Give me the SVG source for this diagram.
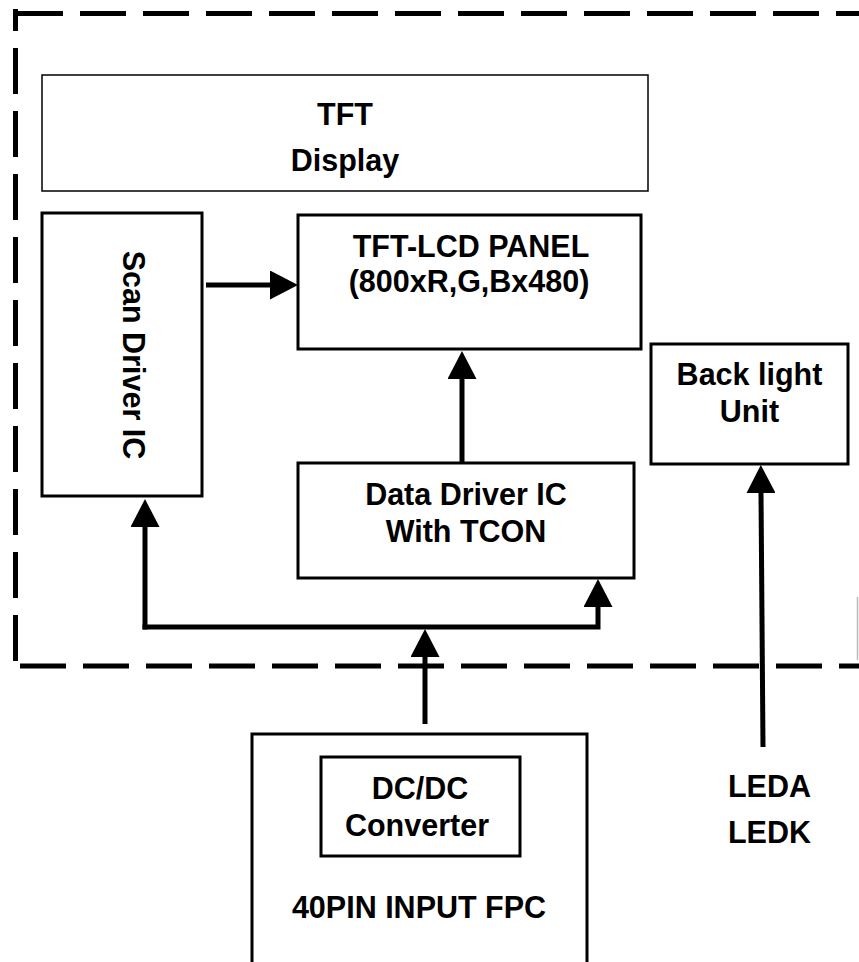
<svg xmlns="http://www.w3.org/2000/svg" width="859" height="962" viewBox="0 0 859 962">
<style>
.box{fill:#fff;stroke:#000;stroke-width:3}
.thin{fill:#fff;stroke:#000;stroke-width:1.5}
.t{font-family:"Liberation Sans",Arial,sans-serif;font-weight:bold;font-size:30.5px;fill:#000;text-anchor:middle}
.dash{fill:none;stroke:#000;stroke-width:5;stroke-dasharray:46 17}
.wire{fill:none;stroke:#000;stroke-width:5}
</style>
<defs>
<marker id="ah" viewBox="0 0 28 29" refX="0" refY="14.5" markerWidth="28" markerHeight="29" markerUnits="userSpaceOnUse" orient="auto">
<path d="M0,0 L28,14.5 L0,29 Z" fill="#000"/>
</marker>
</defs>
<rect width="859" height="962" fill="#fff"/>
<g id="border">
<path class="dash" d="M17,13.5 H859"/>
<path class="dash" d="M15.5,9 V667" style="stroke-dashoffset:24"/>
<path class="dash" d="M20,666 H859"/>
<path d="M857.5,597 V660" fill="none" stroke="#bbb" stroke-width="1.5"/>
</g>
<g id="tft-display">
<rect class="thin" x="42" y="75" width="606" height="116"/>
<text class="t" x="345" y="125">TFT</text>
<text class="t" x="345" y="171">Display</text>
</g>
<g id="scan-driver">
<rect class="box" x="42" y="213" width="160" height="283"/>
<text class="t" transform="translate(123,355) rotate(90)">Scan Driver IC</text>
</g>
<g id="panel">
<rect class="box" x="298" y="215" width="343" height="134"/>
<text class="t" x="471" y="257">TFT-LCD PANEL</text>
<text class="t" x="469" y="292">(800xR,G,Bx480)</text>
</g>
<g id="data-driver">
<rect class="box" x="298" y="463" width="336" height="115"/>
<text class="t" x="466" y="505">Data Driver IC</text>
<text class="t" x="466" y="542">With TCON</text>
</g>
<g id="backlight">
<rect class="box" x="651" y="344" width="197" height="120"/>
<text class="t" x="749.5" y="385">Back light</text>
<text class="t" x="749.5" y="422">Unit</text>
</g>
<g id="fpc">
<path class="box" d="M252,965 V734 H587 V965"/>
<text class="t" x="419" y="918">40PIN INPUT FPC</text>
</g>
<g id="dcdc">
<rect class="box" x="321" y="757" width="199" height="99"/>
<text class="t" x="420" y="799">DC/DC</text>
<text class="t" x="417" y="836">Converter</text>
</g>
<g id="led-labels">
<text class="t" x="769.5" y="797">LEDA</text>
<text class="t" x="769.5" y="843">LEDK</text>
</g>
<g id="connectors">
<path class="wire" d="M206,285 H270" marker-end="url(#ah)"/>
<path class="wire" d="M462,463 V379" marker-end="url(#ah)"/>
<path class="wire" d="M145,629.5 V527" marker-end="url(#ah)"/>
<path class="wire" d="M142.5,627 H598 V607" marker-end="url(#ah)"/>
<path class="wire" d="M425,724 V657" marker-end="url(#ah)"/>
<path class="wire" d="M763,747 L761,493" marker-end="url(#ah)"/>
</g>
</svg>
